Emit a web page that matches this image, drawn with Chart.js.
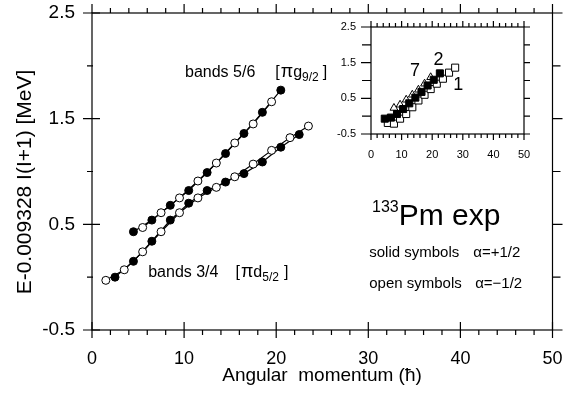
<!DOCTYPE html>
<html>
<head>
<meta charset="utf-8">
<script src="https://cdn.jsdelivr.net/npm/chart.js@4.4.1/dist/chart.umd.min.js"></script>
<style>
  html, body { margin: 0; padding: 0; background: #fff; }
  #wrap { position: relative; width: 576px; height: 403px; }
  #main { position: absolute; left: 0; top: 0; }
  #inset { position: absolute; left: 330px; top: 10px; }
</style>
</head>
<body>
<div id="wrap">
  <canvas id="main" width="576" height="403"></canvas>
  <canvas id="inset" width="205" height="160"></canvas>
</div>
<script>
const FONT = '"Liberation Sans", Arial, Helvetica, sans-serif';

// main plot, 133Pm: spin vs E - 0.009328 I(I+1) [MeV]
const band56SpinsSolid = [4.5, 6.5, 8.5, 10.5, 12.5, 14.5, 16.5, 18.5, 20.5];
const band56Solid      = [0.43, 0.54, 0.68, 0.82, 0.99, 1.17, 1.36, 1.56, 1.77];
const band56SpinsOpen  = [5.5, 7.5, 9.5, 11.5, 13.5, 15.5, 17.5, 19.5];
const band56Open       = [0.47, 0.61, 0.75, 0.91, 1.08, 1.27, 1.45, 1.66];

const band34SpinsOpen  = [1.5, 3.5, 5.5, 7.5, 9.5, 11.5, 13.5, 15.5, 17.5, 19.5, 21.5, 23.5];
const band34Open       = [-0.03, 0.07, 0.24, 0.43, 0.61, 0.75, 0.85, 0.95, 1.07, 1.20, 1.32, 1.43];
const band34SpinsSolid = [2.5, 4.5, 6.5, 8.5, 10.5, 12.5, 14.5, 16.5, 18.5, 20.5, 22.5];
const band34Solid      = [0.00, 0.15, 0.34, 0.54, 0.70, 0.82, 0.90, 0.98, 1.09, 1.23, 1.35];

// inset: bands 1, 2, 7
const band1Spins = [5.5, 7.5, 9.5, 11.5, 13.5, 15.5, 17.5, 19.5, 21.5, 23.5, 25.5, 27.5];
const band1      = [-0.19, -0.21, -0.07, 0.06, 0.25, 0.44, 0.60, 0.76, 0.91, 1.05, 1.22, 1.36];
const band2Spins = [4.5, 6.5, 8.5, 10.5, 12.5, 14.5, 16.5, 18.5, 20.5, 22.5];
const band2      = [-0.07, -0.04, 0.06, 0.20, 0.36, 0.52, 0.68, 0.86, 1.02, 1.20];
const band7Spins = [7.5, 9.5, 11.5, 13.5, 15.5, 17.5, 19.5];
const band7      = [0.23, 0.32, 0.46, 0.60, 0.74, 0.91, 1.09];

const xTitle = 'Angular  momentum (\u0127)';
const yTitle = 'E-0.009328 I(I+1) [MeV]';

const pts = (xs, ys) => xs.map((x, i) => ({ x: x, y: ys[i] }));

// line first (drawn below), then the markers on top
function lineSet(xs, ys) {
    return { data: pts(xs, ys), showLine: true, borderColor: '#000', borderWidth: 1.2,
             pointRadius: 0, order: 2 };
}
function markSet(xs, ys, solid, style, r) {
    return { data: pts(xs, ys), showLine: false, pointStyle: style || 'circle',
             pointRadius: r || 4, borderColor: '#000', borderWidth: 1,
             backgroundColor: solid ? '#000' : '#fff', order: 1 };
}

// no extra room for the end labels, the chart area is set by hand
const noPad = (s) => { s.paddingTop = 0; s.paddingBottom = 0; s.paddingLeft = 0; s.paddingRight = 0; };

// rich text: parts of {t, size, dy} or {gap}
function drawRich(ctx, x, y, parts) {
    parts.forEach(p => {
        if (p.gap) { x += p.gap; return; }
        ctx.font = p.size + 'px ' + FONT;
        ctx.fillText(p.t, x, y + (p.dy || 0));
        x += ctx.measureText(p.t).width;
    });
}

// frame and tick marks; each side: [[major in, out], [minor in, out]]
function frameTicks(opts) {
    return {
        id: 'frameTicks',
        afterDraw: (chart) => {
            const ctx = chart.ctx;
            const a = chart.chartArea;
            const xs = chart.scales.x, ys = chart.scales.y;
            ctx.save();
            ctx.strokeStyle = '#000';
            ctx.lineWidth = 1.2;
            ctx.strokeRect(a.left, a.top, a.right - a.left, a.bottom - a.top);
            ctx.beginPath();
            xs.ticks.forEach(t => {
                const px = xs.getPixelForValue(t.value);
                const major = opts.xMajor(t.value);
                const b = major ? opts.bottom[0] : opts.bottom[1];
                const tp = major ? opts.top[0] : opts.top[1];
                ctx.moveTo(px, a.bottom - b[0]); ctx.lineTo(px, a.bottom + b[1]);
                ctx.moveTo(px, a.top + tp[0]); ctx.lineTo(px, a.top - tp[1]);
            });
            ys.ticks.forEach(t => {
                const py = ys.getPixelForValue(t.value);
                const major = opts.yMajor(t.value);
                const l = major ? opts.left[0] : opts.left[1];
                const r = major ? opts.right[0] : opts.right[1];
                ctx.moveTo(a.left + l[0], py); ctx.lineTo(a.left - l[1], py);
                ctx.moveTo(a.right - r[0], py); ctx.lineTo(a.right + r[1], py);
            });
            ctx.stroke();
            ctx.restore();
        }
    };
}

const isTenth = v => Math.round(v) % 10 === 0;
const isHalfOdd = v => Math.abs(Math.round(v * 2)) % 2 === 1;

const annotations = {
    id: 'annotations',
    afterDraw: (chart) => {
        const ctx = chart.ctx;
        const xs = chart.scales.x, ys = chart.scales.y;
        const X = v => xs.getPixelForValue(v), Y = v => ys.getPixelForValue(v);
        ctx.save();
        ctx.fillStyle = '#000';
        ctx.textBaseline = 'alphabetic';
        ctx.textAlign = 'left';

        drawRich(ctx, X(10.1), Y(1.895), [
            { t: 'bands 5/6', size: 16 }, { gap: 20 },
            { t: '[', size: 16 }, { gap: 1 },
            { t: '\u03c0', size: 18 },
            { t: 'g', size: 16 },
            { t: '9/2', size: 12, dy: 4 }, { gap: 4 },
            { t: ']', size: 16 }
        ]);
        drawRich(ctx, X(6.1), Y(0.0), [
            { t: 'bands 3/4', size: 16 }, { gap: 17 },
            { t: '[', size: 16 }, { gap: 1 },
            { t: '\u03c0', size: 18 },
            { t: 'd', size: 16 },
            { t: '5/2', size: 12, dy: 4 }, { gap: 5 },
            { t: ']', size: 16 }
        ]);
        drawRich(ctx, X(30.4), Y(0.495), [
            { t: '133', size: 16, dy: -13 },
            { t: 'Pm exp', size: 30 }
        ]);
        ctx.font = '15px ' + FONT;
        ctx.fillText('solid symbols', X(30.1), Y(0.195));
        ctx.fillText('\u03b1=+1/2', X(41.4), Y(0.195));
        ctx.fillText('open symbols', X(30.1), Y(-0.105));
        ctx.fillText('\u03b1=\u22121/2', X(41.6), Y(-0.105));

        // axis titles
        ctx.textAlign = 'center';
        ctx.textBaseline = 'middle';
        ctx.font = '19px ' + FONT;
        ctx.fillText(xTitle, 322, 376);
        ctx.translate(25, 182);
        ctx.rotate(-Math.PI / 2);
        ctx.font = '21px ' + FONT;
        ctx.fillText(yTitle, 0, 0);
        ctx.restore();
    }
};

new Chart(document.getElementById('main'), {
    type: 'scatter',
    data: {
        datasets: [
            lineSet(band56SpinsSolid, band56Solid),
            lineSet(band56SpinsOpen, band56Open),
            lineSet(band34SpinsOpen, band34Open),
            lineSet(band34SpinsSolid, band34Solid),
            markSet(band56SpinsSolid, band56Solid, true),
            markSet(band56SpinsOpen, band56Open, false),
            markSet(band34SpinsOpen, band34Open, false),
            markSet(band34SpinsSolid, band34Solid, true)
        ]
    },
    options: {
        responsive: false,
        animation: false,
        layout: { padding: { left: 0, top: 13, right: 23.5, bottom: 0 } },
        plugins: { legend: { display: false }, tooltip: { enabled: false } },
        scales: {
            x: {
                type: 'linear', min: 0, max: 50,
                afterFit: (s) => { s.height = 73; noPad(s); },
                grid: { display: false, drawTicks: false },
                border: { display: false },
                ticks: { stepSize: 2, autoSkip: false, maxRotation: 0, padding: 18, color: '#000',
                         font: { family: FONT, size: 18 },
                         callback: (v) => isTenth(v) ? String(v) : '' }
            },
            y: {
                type: 'linear', min: -0.5, max: 2.5,
                afterFit: (s) => { s.width = 92; noPad(s); },
                grid: { display: false, drawTicks: false },
                border: { display: false },
                ticks: { stepSize: 0.5, autoSkip: false, padding: 17, color: '#000',
                         font: { family: FONT, size: 19 },
                         callback: (v) => isHalfOdd(v) ? v.toFixed(1) : '' }
            }
        }
    },
    plugins: [frameTicks({
        xMajor: isTenth, yMajor: isHalfOdd,
        bottom: [[8, 8], [0, 5]], top: [[0, 9], [0, 5]],
        left: [[8, 9], [1, 5]], right: [[0, 10], [0, 8]]
    }), annotations]
});

// inset
const insetLabels = {
    id: 'insetLabels',
    afterDraw: (chart) => {
        const ctx = chart.ctx;
        const xs = chart.scales.x, ys = chart.scales.y;
        ctx.save();
        ctx.fillStyle = '#000';
        ctx.font = '18px ' + FONT;
        ctx.textAlign = 'center';
        ctx.textBaseline = 'middle';
        ctx.fillText('7', xs.getPixelForValue(14.4), ys.getPixelForValue(1.27));
        ctx.fillText('2', xs.getPixelForValue(22.1), ys.getPixelForValue(1.57));
        ctx.fillText('1', xs.getPixelForValue(28.5), ys.getPixelForValue(0.86));
        ctx.restore();
    }
};

new Chart(document.getElementById('inset'), {
    type: 'scatter',
    data: {
        datasets: [
            markSet(band2Spins, band2, true, 'rect', 5),
            markSet(band1Spins, band1, false, 'rect', 5),
            markSet(band7Spins, band7, false, 'triangle', 4.5)
        ]
    },
    options: {
        responsive: false,
        animation: false,
        layout: { padding: { left: 0, top: 17, right: 11, bottom: 0 } },
        plugins: { legend: { display: false }, tooltip: { enabled: false } },
        scales: {
            x: {
                type: 'linear', min: 0, max: 50,
                afterFit: (s) => { s.height = 36; noPad(s); },
                grid: { display: false, drawTicks: false },
                border: { display: false },
                ticks: { stepSize: 2, autoSkip: false, maxRotation: 0, padding: 14, color: '#000',
                         font: { family: FONT, size: 11 },
                         callback: (v) => isTenth(v) ? String(v) : '' }
            },
            y: {
                type: 'linear', min: -0.5, max: 2.5,
                afterFit: (s) => { s.width = 41; noPad(s); },
                grid: { display: false, drawTicks: false },
                border: { display: false },
                ticks: { stepSize: 0.5, autoSkip: false, padding: 15, color: '#000',
                         font: { family: FONT, size: 11 },
                         callback: (v) => isHalfOdd(v) ? v.toFixed(1) : '' }
            }
        }
    },
    plugins: [frameTicks({
        xMajor: isTenth, yMajor: isHalfOdd,
        bottom: [[0, 6], [0, 4]], top: [[0, 6], [0, 4]],
        left: [[0, 10], [0, 9]], right: [[0, 6], [0, 6]]
    }), insetLabels]
});
</script>
</body>
</html>
